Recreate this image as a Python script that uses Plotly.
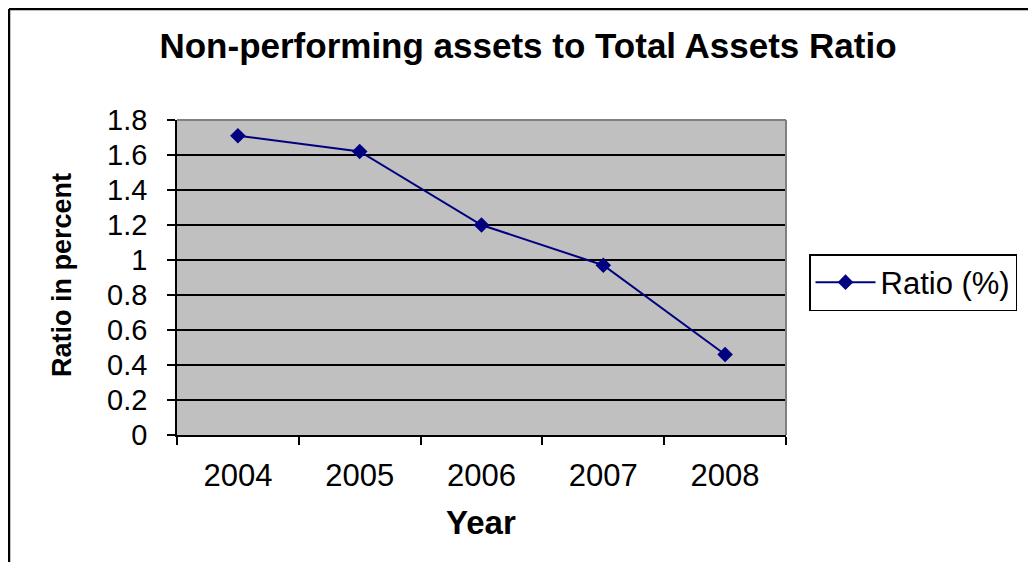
import plotly.graph_objs as go

years = ['2004', '2005', '2006', '2007', '2008']
ratio = [1.71, 1.62, 1.20, 0.97, 0.46]

navy = '#000080'
font_name = 'Liberation Sans, Arial, sans-serif'

trace = go.Scatter(x=years, y=ratio,
                   mode='lines+markers',
                   name='Ratio (%)',
                   line=dict(color=navy, width=2),
                   marker=dict(symbol='diamond', size=12, color=navy))

# page body adds an 8px margin, so work in window px and shift by 8
OFF = 8
L, R, T, B = 177 - OFF, 786 - OFF, 120 - OFF, 435 - OFF
W, H = 1036 - OFF, 562 - OFF

def px(x):
    return (x - OFF - L) / (R - L)

def py(y):
    return (B - (y - OFF)) / (B - T)

layout = go.Layout(
    width=W, height=H,
    margin=dict(l=L, r=W - R, t=T, b=H - B),
    paper_bgcolor='white',
    plot_bgcolor='#c0c0c0',
    font=dict(family=font_name, color='black'),
    title=dict(text='<b>Non-performing assets to Total Assets Ratio</b>',
               font=dict(size=35, color='black'),
               x=(528 - OFF) / W, xanchor='center',
               y=1 - (46 - OFF) / H, yanchor='middle'),
    xaxis=dict(type='category', range=[-0.5, 4.5],
               showgrid=False, zeroline=False,
               showline=True, linecolor='black', linewidth=1.5,
               ticks='outside', tickson='boundaries', ticklen=8,
               tickcolor='black', tickwidth=1.5,
               tickfont=dict(size=31), ticklabelstandoff=12),
    yaxis=dict(range=[0, 1.8], dtick=0.2, tick0=0,
               showgrid=True, gridcolor='black', gridwidth=1.5,
               zeroline=False,
               showline=True, linecolor='black', linewidth=1.5,
               ticks='outside', ticklen=8, tickcolor='black', tickwidth=1.5,
               tickfont=dict(size=29), ticklabelstandoff=14),
    showlegend=True,
    legend=dict(x=px(809), xanchor='left', y=py(254), yanchor='top',
                bordercolor='black', borderwidth=1.5, bgcolor='white',
                font=dict(size=31), itemwidth=60),
    annotations=[
        dict(text='<b>Year</b>', xref='paper', yref='paper',
             x=px(481), y=py(522), xanchor='center', yanchor='middle',
             showarrow=False, font=dict(size=33)),
        dict(text='<b>Ratio in percent</b>', xref='paper', yref='paper',
             x=px(62), y=py(275), xanchor='center', yanchor='middle',
             textangle=-90, showarrow=False, font=dict(size=27)),
    ],
    shapes=[
        # grey border on top and right of plot area
        dict(type='line', xref='paper', yref='paper', x0=0, x1=1, y0=1, y1=1,
             line=dict(color='#808080', width=2), layer='above'),
        dict(type='line', xref='paper', yref='paper', x0=1, x1=1, y0=0, y1=1,
             line=dict(color='#808080', width=2), layer='above'),
        # outer chart border (cut off on right and bottom)
        dict(type='line', xref='paper', yref='paper',
             x0=px(9), x1=px(1045), y0=py(9), y1=py(9),
             line=dict(color='black', width=2.5)),
        dict(type='line', xref='paper', yref='paper',
             x0=px(9), x1=px(9), y0=py(9), y1=py(575),
             line=dict(color='black', width=2.5)),
    ],
)

fig = go.Figure(data=[trace], layout=layout)
fig.write_html('out.html')
